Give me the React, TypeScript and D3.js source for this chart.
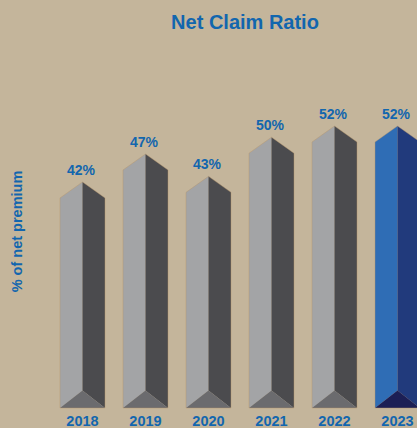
import React from "react";
import * as d3 from "d3";

const years = ["2018", "2019", "2020", "2021", "2022", "2023"];
const ratios = [42, 47, 43, 50, 52, 52];
const highlight = ["2023"];

const W = 417;
const H = 428;

export default function App() {
  const x = d3.scalePoint<string>().domain(years).range([82.5, 397.5]);
  const y = d3.scaleLinear().domain([0, 52]).range([417, 126]);
  const half = 22.5;
  const topDrop = 16;
  const baseY = 408;
  const baseRise = 17.5;

  const line = d3.line<[number, number]>();

  return (
    <svg
      width={W}
      height={H}
      style={{ position: "absolute", left: 0, top: 0, display: "block" }}
      fontFamily="'Liberation Sans', Arial, sans-serif"
    >
      <rect x={0} y={0} width={W} height={H} fill="#c4b59b" />
      <text x={245} y={29} textAnchor="middle" fontSize={20} fontWeight="bold" fill="#1266ae">
        Net Claim Ratio
      </text>
      <text
        transform={`translate(21.5,231.5) rotate(-90)`}
        textAnchor="middle"
        fontSize={14.5}
        fontWeight="bold"
        fill="#1266ae"
      >
        % of net premium
      </text>
      {years.map((yr, i) => {
        const cx = x(yr)!;
        const apex = y(ratios[i]);
        const l = cx - half;
        const r = cx + half;
        const hi = highlight.includes(yr);
        const cLeft = hi ? "#2f6db5" : "#a3a4a6";
        const cRight = hi ? "#213a7c" : "#4b4b4e";
        const cBottom = hi ? "#1c1f55" : "#6b6b6e";
        const leftFace = line([
          [l, apex + topDrop],
          [cx, apex],
          [cx, baseY - baseRise],
          [l, baseY],
        ])! + "Z";
        const rightFace = line([
          [cx, apex],
          [r, apex + topDrop],
          [r, baseY],
          [cx, baseY - baseRise],
        ])! + "Z";
        const bottom = line([
          [l, baseY],
          [cx, baseY - baseRise],
          [r, baseY],
        ])! + "Z";
        const outline = line([
          [l, baseY],
          [l, apex + topDrop],
          [cx, apex],
          [r, apex + topDrop],
          [r, baseY],
        ])! + "Z";
        return (
          <g key={yr}>
            <path d={leftFace} fill={cLeft} />
            <path d={rightFace} fill={cRight} />
            <path d={bottom} fill={cBottom} />
            <path d={outline} fill="none" stroke="#b8966a" strokeWidth={0.6} strokeOpacity={0.7} />
            <text x={cx - 1.5} y={apex - 7} textAnchor="middle" fontSize={14} fontWeight="bold" fill="#1266ae">
              {ratios[i]}%
            </text>
            <text x={cx} y={426} textAnchor="middle" fontSize={14.5} fontWeight="bold" fill="#1266ae">
              {yr}
            </text>
          </g>
        );
      })}
    </svg>
  );
}
